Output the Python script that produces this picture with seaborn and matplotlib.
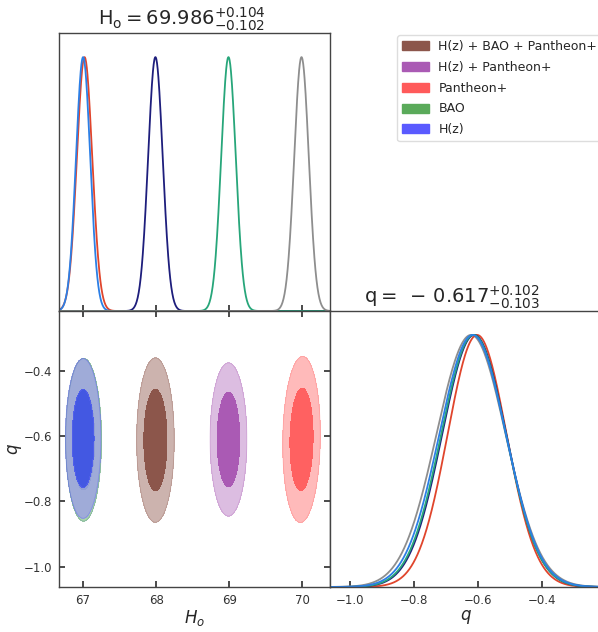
import numpy as np
import pandas as pd
import matplotlib
matplotlib.use("Agg")
import matplotlib.pyplot as plt
from matplotlib.patches import Patch
import seaborn as sns

# ---------------- data ----------------
legend_labels = ["H(z) + BAO + Pantheon+", "H(z) + Pantheon+", "Pantheon+", "BAO", "H(z)"]
legend_colors = ["#8c564b", "#aa5ab4", "#ff5a5a", "#5aaa5a", "#5a5aff"]

# 2D posterior contours (H0, q): means, sigmas, correlation
c2_names = ["BAO", "H(z)", "H(z) + BAO + Pantheon+", "H(z) + Pantheon+", "Pantheon+"]
c2_h0_mean = [67.007, 67.00, 67.99, 68.99, 69.99]
c2_q_mean = [-0.611, -0.607, -0.612, -0.610, -0.610]
c2_h0_sigma = [0.100, 0.099, 0.105, 0.103, 0.105]
c2_q_sigma = [0.102, 0.100, 0.103, 0.096, 0.104]
c2_rho = [0.0, 0.0, 0.0, 0.0, 0.06]
c2_outer = ["#a9d5a9", "#9ea6df", "#ccb3ae", "#dcbde1", "#ffbaba"]
c2_inner = ["#2f6a8f", "#4656ee", "#8c564b", "#aa5ab4", "#ff6161"]
c2_alpha = [1.0, 0.88, 1.0, 1.0, 1.0]

# 1D marginals of H0
h0_line_colors = ["#e0452c", "#2b7fe6", "#1e1e7c", "#27a67a", "#8e8e8e"]
h0_line_means = [67.02, 67.00, 67.99, 68.99, 69.99]
h0_line_sigmas = [0.105, 0.097, 0.100, 0.100, 0.100]

# 1D marginals of q
q_line_colors = ["#8e8e8e", "#e0452c", "#1e1e7c", "#27a67a", "#2b7fe6"]
q_line_means = [-0.622, -0.603, -0.612, -0.614, -0.617]
q_line_sigmas = [0.108, 0.092, 0.100, 0.101, 0.104]

h0_ticks = [67, 68, 69, 70]
q_ticks = [-1.0, -0.8, -0.6, -0.4]
q_tick_labels = ["\u22121.0", "\u22120.8", "\u22120.6", "\u22120.4"]
h0_lim = (66.67, 70.38)
q_lim = (-1.0625, -0.216)

title_h0 = r"$\mathrm{H_o} = 69.986^{+0.104}_{-0.102}$"
title_q = r"$\mathrm{q} = \;-\,0.617^{+0.102}_{-0.103}$"

# ---------------- style ----------------
sns.set_theme(style="ticks")
plt.rcParams["font.family"] = ["DejaVu Sans"]
plt.rcParams["axes.edgecolor"] = "#444444"
plt.rcParams["axes.linewidth"] = 1.0
plt.rcParams["xtick.color"] = "#333333"
plt.rcParams["ytick.color"] = "#333333"

fig = plt.figure(figsize=(5.98, 6.32), dpi=100)
L, W = 59 / 598, 271 / 598
H = 276 / 632
ax_h = fig.add_axes([L, 1 - 311 / 632, W, 278 / 632])
ax_2d = fig.add_axes([L, 1 - 587 / 632, W, H])
ax_q = fig.add_axes([L + W, 1 - 587 / 632, W, H])

# ---------------- 1D H0 ----------------
hx = np.linspace(h0_lim[0], h0_lim[1], 800)
for c, m, s in zip(h0_line_colors, h0_line_means, h0_line_sigmas):
    dens = np.exp(-0.5 * ((hx - m) / s) ** 2)
    sns.lineplot(x=hx, y=dens, ax=ax_h, color=c, lw=1.3, legend=False)
ax_h.set_xlim(*h0_lim)
ax_h.set_ylim(0, 1.095)
ax_h.set_xticks(h0_ticks)
ax_h.set_xticklabels([])
ax_h.set_yticks([])
ax_h.tick_params(axis="x", direction="in", length=4, bottom=True, top=False)
ax_h.set_title(title_h0, fontsize=14, pad=3, x=0.455)

# ---------------- 2D contours ----------------
gx = np.linspace(h0_lim[0], h0_lim[1], 500)
gy = np.linspace(q_lim[0], q_lim[1], 500)
X, Y = np.meshgrid(gx, gy)
lvl68 = np.exp(-0.5 * 2.279)
lvl95 = np.exp(-0.5 * 5.991)
for mh, mq, sh, sq, r, co, ci, a in zip(c2_h0_mean, c2_q_mean, c2_h0_sigma, c2_q_sigma,
                                      c2_rho, c2_outer, c2_inner, c2_alpha):
    u = (X - mh) / sh
    v = (Y - mq) / sq
    Z = np.exp(-0.5 * (u ** 2 - 2 * r * u * v + v ** 2) / (1 - r ** 2))
    ax_2d.contourf(X, Y, Z, levels=[lvl95, lvl68, 1.1], colors=[co, ci], alpha=a)
    ax_2d.contour(X, Y, Z, levels=[lvl95], colors=[ci], linewidths=0.6, alpha=0.3)
ax_2d.set_xlim(*h0_lim)
ax_2d.set_ylim(*q_lim)
ax_2d.set_xticks(h0_ticks)
ax_2d.set_yticks(q_ticks)
ax_2d.set_xticklabels([str(t) for t in h0_ticks])
ax_2d.set_yticklabels(q_tick_labels)
ax_2d.tick_params(direction="in", length=4, top=True, right=True, labelsize=8.5, pad=5)
ax_2d.set_xlabel(r"$H_o$", fontsize=12, labelpad=1)
ax_2d.set_ylabel(r"$q$", fontsize=12, labelpad=0)

# ---------------- 1D q ----------------
qx = np.linspace(q_lim[0], q_lim[1], 800)
for c, m, s in zip(q_line_colors, q_line_means, q_line_sigmas):
    dens = np.exp(-0.5 * ((qx - m) / s) ** 2)
    sns.lineplot(x=qx, y=dens, ax=ax_q, color=c, lw=1.3, legend=False)
ax_q.set_xlim(*q_lim)
ax_q.set_ylim(0, 1.095)
ax_q.set_xticks(q_ticks)
ax_q.set_xticklabels(q_tick_labels)
ax_q.set_yticks([])
ax_q.tick_params(axis="x", direction="in", length=4, labelsize=8.5, pad=5)
ax_q.set_xlabel(r"$q$", fontsize=12, labelpad=1)
ax_q.set_ylabel("")
ax_q.set_title(title_q, fontsize=14, pad=3, x=0.45)

# ---------------- legend ----------------
handles = [Patch(facecolor=c, edgecolor=c) for c in legend_colors]
fig.legend(handles, legend_labels, loc="upper left",
           bbox_to_anchor=(391 / 598, 1 - 29 / 632), fontsize=9,
           labelspacing=0.62, handlelength=2.1, handleheight=0.75,
           frameon=True, fancybox=True, framealpha=1, edgecolor="#dddddd",
           borderpad=0.4, handletextpad=0.8)

fig.savefig("out.png", dpi=100)
